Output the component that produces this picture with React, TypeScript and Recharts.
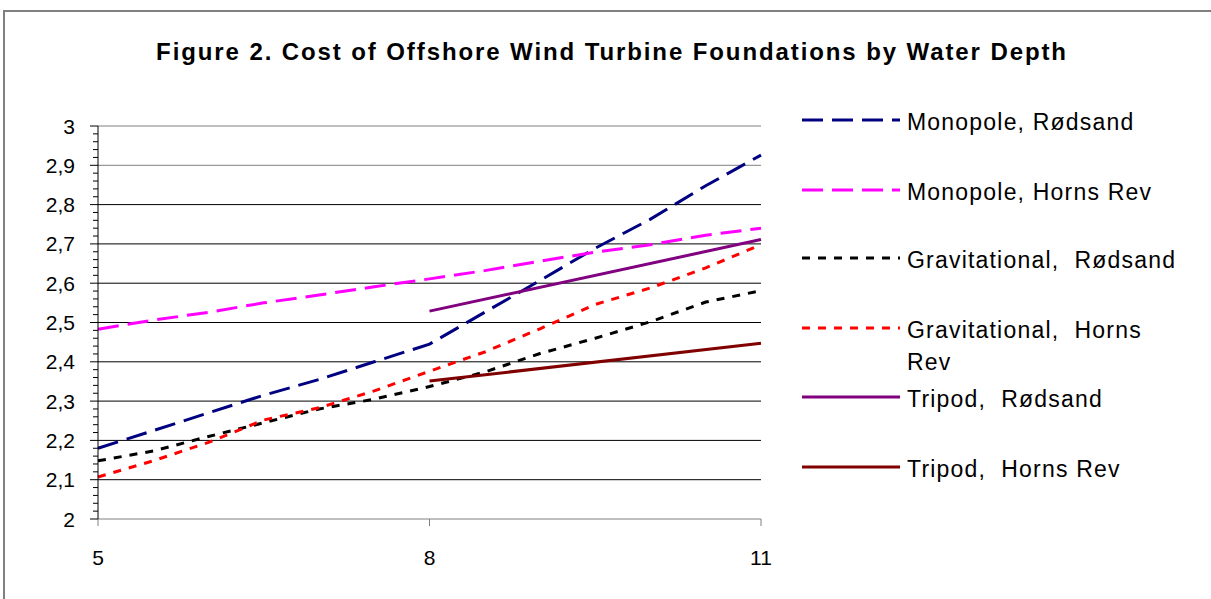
import React from 'react';
import { LineChart, Line, XAxis, YAxis, ReferenceLine, Legend } from 'recharts';

// water depth (m)
const DEPTHS = [5, 5.5, 6, 6.5, 7, 7.5, 8, 8.5, 9, 9.5, 10, 10.5, 11];

// cost
const MONO_RODSAND = [2.18, 2.225, 2.27, 2.315, 2.355, 2.4, 2.445, 2.526, 2.607, 2.689, 2.763, 2.848, 2.926];
const MONO_HORNS = [2.483, 2.506, 2.526, 2.55, 2.57, 2.591, 2.611, 2.632, 2.656, 2.679, 2.698, 2.722, 2.74];
const GRAV_RODSAND = [2.148, 2.173, 2.21, 2.245, 2.28, 2.305, 2.337, 2.374, 2.421, 2.46, 2.502, 2.552, 2.581];
const GRAV_HORNS = [2.107, 2.148, 2.195, 2.252, 2.283, 2.326, 2.376, 2.425, 2.484, 2.546, 2.588, 2.639, 2.698];
const TRIPOD_RODSAND = [null, null, null, null, null, null, 2.529, null, null, null, null, null, 2.711];
const TRIPOD_HORNS = [null, null, null, null, null, null, 2.351, null, null, null, null, null, 2.447];

const X_TICKS = [5, 8, 11];
const Y_LABELS = [2, 2.1, 2.2, 2.3, 2.4, 2.5, 2.6, 2.7, 2.8, 2.9, 3];
const GRID_VALUES = [2.1, 2.2, 2.3, 2.4, 2.5, 2.6, 2.7, 2.8, 2.9, 3];
const Y_TICKS = Array.from({ length: 51 }, (_, i) => +(2 + i * 0.02).toFixed(2));

const TITLE = 'Figure 2. Cost of Offshore Wind Turbine Foundations by Water Depth';

const SERIES = [
  { key: 'monoRodsand', name: 'Monopole, Rødsand', color: '#000080', dash: '21 9', values: MONO_RODSAND },
  { key: 'monoHorns', name: 'Monopole, Horns Rev', color: '#FF00FF', dash: '21 9', values: MONO_HORNS },
  { key: 'gravRodsand', name: 'Gravitational,  Rødsand', color: '#000000', dash: '8 8', values: GRAV_RODSAND },
  { key: 'gravHorns', name: 'Gravitational,  Horns Rev', color: '#FF0000', dash: '8 8', values: GRAV_HORNS },
  { key: 'tripodRodsand', name: 'Tripod,  Rødsand', color: '#800080', dash: undefined, values: TRIPOD_RODSAND },
  { key: 'tripodHorns', name: 'Tripod,  Horns Rev', color: '#800000', dash: undefined, values: TRIPOD_HORNS },
];

const data = DEPTHS.map((depth, i) => {
  const row: Record<string, number | null> = { depth };
  SERIES.forEach((s) => {
    row[s.key] = s.values[i];
  });
  return row;
});

const FONT = '"Liberation Sans", Arial, sans-serif';
const LEGEND_ROWS = [120, 190, 258, 328, 397, 467];

const fmt = (v: number) => (Number.isInteger(v) ? String(v) : v.toFixed(1).replace('.', ','));

const YTick = (props: any) => {
  const { x, y, payload } = props;
  const v = payload.value;
  const major = Y_LABELS.some((l) => Math.abs(l - v) < 1e-6);
  const axisX = x + 23;
  return (
    <g>
      <line x1={axisX - (major ? 8 : 5)} x2={axisX} y1={y} y2={y} stroke="#000" strokeWidth={1} />
      {major && (
        <text x={x} y={y} dy="0.36em" textAnchor="end" fontSize={21} fill="#000">
          {fmt(v)}
        </text>
      )}
    </g>
  );
};

const renderLegend = (props: any) => {
  const items = [...(props.payload || [])].sort(
    (a: any, b: any) =>
      SERIES.findIndex((s) => s.key === a.dataKey) - SERIES.findIndex((s) => s.key === b.dataKey)
  );
  return (
    <div style={{ position: 'relative', width: 0, height: 0 }}>
      {items.map((entry: any, i: number) => {
        const s = SERIES.find((d) => d.key === entry.dataKey);
        const cy = LEGEND_ROWS[i];
        return (
          <div key={entry.dataKey}>
            <svg
              width={98}
              height={6}
              style={{ position: 'absolute', left: 802, top: cy - 3, overflow: 'visible' }}
            >
              <line x1={0} x2={98} y1={3} y2={3} stroke={entry.color} strokeWidth={3} strokeDasharray={s?.dash} />
            </svg>
            <div
              style={{
                position: 'absolute',
                left: 907,
                top: cy - 14,
                width: 280,
                fontSize: 23,
                lineHeight: '32px',
                letterSpacing: 1.2,
                whiteSpace: 'pre-wrap',
                color: '#000',
              }}
            >
              {entry.value}
            </div>
          </div>
        );
      })}
    </div>
  );
};

export default function App() {
  return (
    <div
      style={{
        position: 'absolute',
        left: 0,
        top: 0,
        width: 1211,
        height: 599,
        overflow: 'hidden',
        background: '#fff',
        fontFamily: FONT,
      }}
    >
      <div
        style={{
          position: 'absolute',
          left: 3,
          top: 10,
          width: 1300,
          height: 700,
          border: '2px solid #808080',
        }}
      />
      <div
        style={{
          position: 'absolute',
          left: 0,
          top: 38,
          width: 1224,
          textAlign: 'center',
          fontSize: 24,
          lineHeight: '28px',
          fontWeight: 'bold',
          letterSpacing: 1.9,
          color: '#000',
        }}
      >
        {TITLE}
      </div>
      <div style={{ position: 'absolute', left: 0, top: 0 }}>
        <LineChart width={1211} height={599} data={data} margin={{ top: 126, right: 450, bottom: 0, left: 0 }}>
          {GRID_VALUES.map((v) => (
            <ReferenceLine key={v} y={v} stroke={v >= 2.9 ? '#808080' : '#000'} strokeWidth={1} />
          ))}
          <XAxis
            dataKey="depth"
            type="number"
            domain={[5, 11]}
            ticks={X_TICKS}
            height={80}
            stroke="#808080"
            tickSize={7}
            tickMargin={24}
            tick={{ fontSize: 21, fill: '#000' }}
            interval={0}
          />
          <YAxis
            type="number"
            domain={[2, 3]}
            ticks={Y_TICKS}
            interval={0}
            width={98}
            stroke="#000"
            tickLine={false}
            tickSize={8}
            tickMargin={15}
            tick={<YTick />}
          />
          <Legend
            content={renderLegend}
            wrapperStyle={{ position: 'absolute', left: 0, top: 0, width: 0, height: 0, overflow: 'visible' }}
          />
          {SERIES.map((s) => (
            <Line
              key={s.key}
              type="linear"
              dataKey={s.key}
              name={s.name}
              stroke={s.color}
              strokeWidth={3}
              strokeDasharray={s.dash}
              dot={false}
              activeDot={false}
              connectNulls
              isAnimationActive={false}
            />
          ))}
        </LineChart>
      </div>
    </div>
  );
}
